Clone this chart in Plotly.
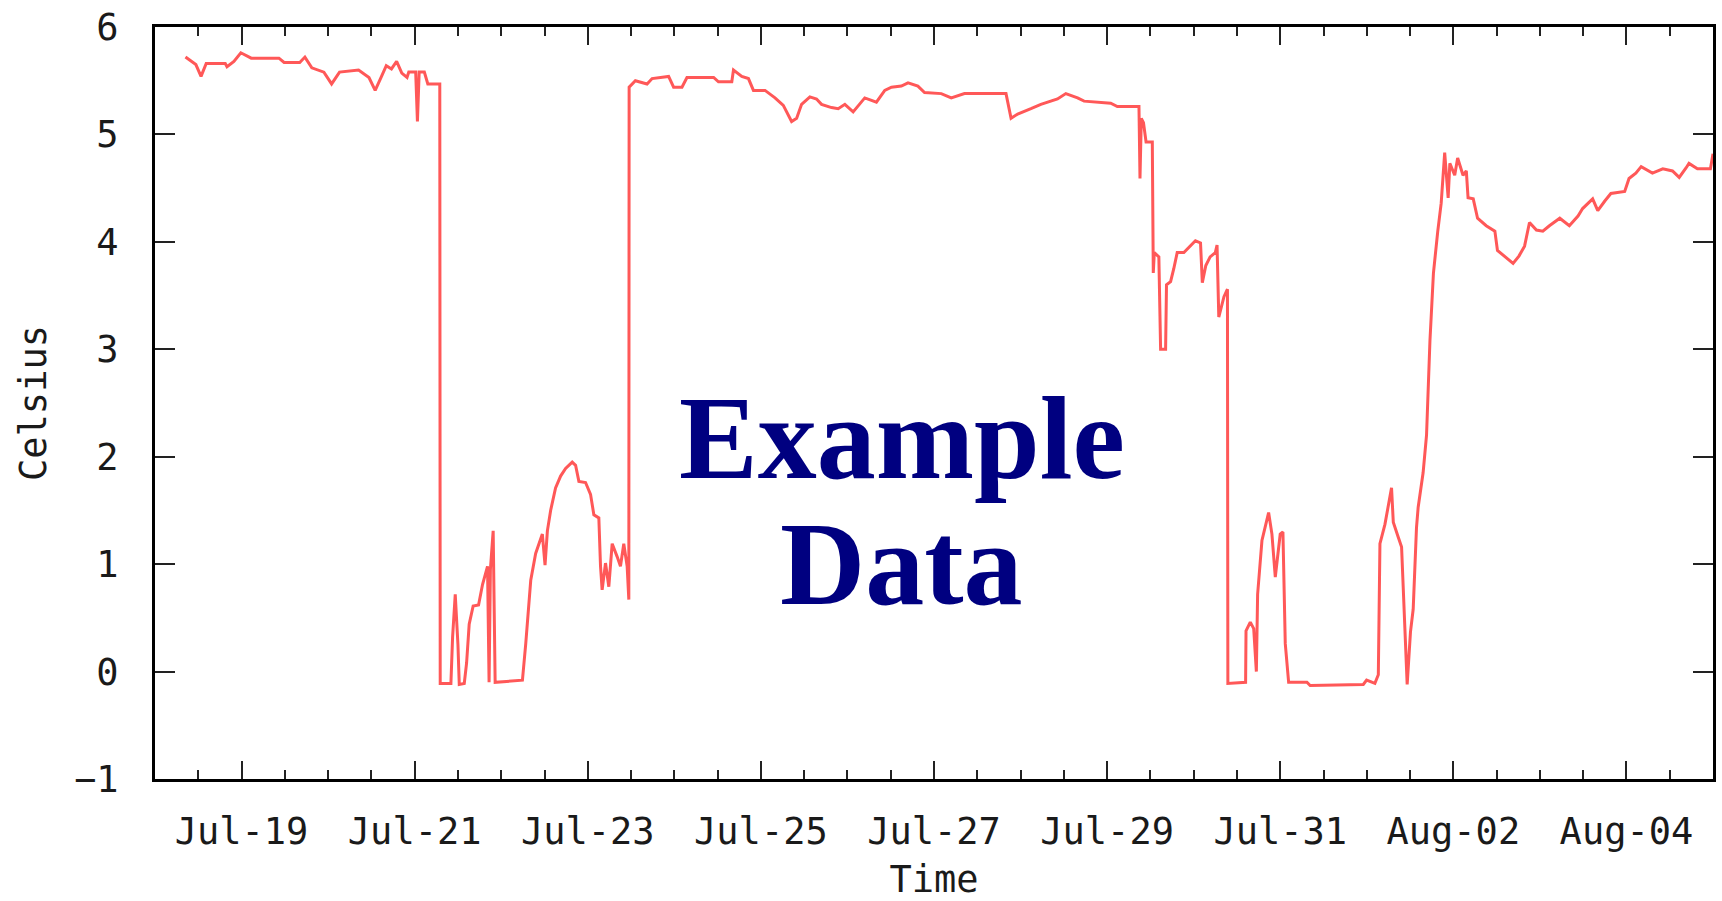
import plotly.graph_objects as go

# ---- data ----
times = [
    "2009-07-18 08:27", "2009-07-18 11:20", "2009-07-18 12:46", "2009-07-18 14:12", "2009-07-18 19:29",
    "2009-07-18 19:58", "2009-07-18 21:53", "2009-07-18 23:48", "2009-07-19 02:41", "2009-07-19 10:22",
    "2009-07-19 11:48", "2009-07-19 16:08", "2009-07-19 17:34", "2009-07-19 19:29", "2009-07-19 22:50",
    "2009-07-20 00:58", "2009-07-20 03:10", "2009-07-20 08:27", "2009-07-20 11:20", "2009-07-20 13:03",
    "2009-07-20 14:41", "2009-07-20 16:08", "2009-07-20 17:34", "2009-07-20 19:00", "2009-07-20 20:26",
    "2009-07-20 21:53", "2009-07-20 22:22", "2009-07-21 00:17", "2009-07-21 00:46", "2009-07-21 01:15",
    "2009-07-21 02:41", "2009-07-21 03:39", "2009-07-21 06:32", "2009-07-21 06:58", "2009-07-21 07:05",
    "2009-07-21 10:03", "2009-07-21 10:31", "2009-07-21 11:15", "2009-07-21 12:00", "2009-07-21 12:22",
    "2009-07-21 13:45", "2009-07-21 14:24", "2009-07-21 15:07", "2009-07-21 16:13", "2009-07-21 17:43",
    "2009-07-21 18:49", "2009-07-21 20:12", "2009-07-21 20:38", "2009-07-21 21:00", "2009-07-21 21:46",
    "2009-07-21 22:19", "2009-07-22 05:53", "2009-07-22 06:48", "2009-07-22 08:11", "2009-07-22 09:33",
    "2009-07-22 11:24", "2009-07-22 12:09", "2009-07-22 12:48", "2009-07-22 13:42", "2009-07-22 15:04",
    "2009-07-22 16:28", "2009-07-22 17:51", "2009-07-22 19:41", "2009-07-22 20:37", "2009-07-22 21:32",
    "2009-07-22 23:23", "2009-07-23 00:46", "2009-07-23 01:41", "2009-07-23 03:04", "2009-07-23 03:32",
    "2009-07-23 03:59", "2009-07-23 04:55", "2009-07-23 05:50", "2009-07-23 06:46", "2009-07-23 08:08",
    "2009-07-23 09:04", "2009-07-23 09:59", "2009-07-23 10:55", "2009-07-23 11:23", "2009-07-23 11:28",
    "2009-07-23 13:12", "2009-07-23 16:26", "2009-07-23 17:50", "2009-07-23 22:25", "2009-07-23 23:48",
    "2009-07-24 02:07", "2009-07-24 03:30", "2009-07-24 10:54", "2009-07-24 12:14", "2009-07-24 15:56",
    "2009-07-24 16:24", "2009-07-24 18:42", "2009-07-24 20:33", "2009-07-24 21:56", "2009-07-25 01:09",
    "2009-07-25 03:55", "2009-07-25 06:13", "2009-07-25 08:31", "2009-07-25 09:55", "2009-07-25 11:17",
    "2009-07-25 13:35", "2009-07-25 15:26", "2009-07-25 16:49", "2009-07-25 19:35", "2009-07-25 21:26",
    "2009-07-25 23:17", "2009-07-26 01:35", "2009-07-26 02:59", "2009-07-26 04:48", "2009-07-26 08:02",
    "2009-07-26 10:21", "2009-07-26 12:12", "2009-07-26 14:57", "2009-07-26 16:48", "2009-07-26 19:32",
    "2009-07-26 21:23", "2009-07-27 02:01", "2009-07-27 04:47", "2009-07-27 08:27", "2009-07-27 14:00",
    "2009-07-27 19:58", "2009-07-27 21:22", "2009-07-27 23:12", "2009-07-28 02:53", "2009-07-28 05:38",
    "2009-07-28 10:15", "2009-07-28 12:33", "2009-07-28 15:48", "2009-07-28 17:37", "2009-07-29 01:00",
    "2009-07-29 02:50", "2009-07-29 07:55", "2009-07-29 08:50", "2009-07-29 09:07", "2009-07-29 09:29",
    "2009-07-29 10:05", "2009-07-29 10:48", "2009-07-29 12:32", "2009-07-29 12:48", "2009-07-29 13:05",
    "2009-07-29 14:21", "2009-07-29 14:50", "2009-07-29 16:13", "2009-07-29 16:28", "2009-07-29 17:36",
    "2009-07-29 18:29", "2009-07-29 19:26", "2009-07-29 21:17", "2009-07-29 22:41", "2009-07-30 00:29",
    "2009-07-30 01:54", "2009-07-30 02:24", "2009-07-30 03:22", "2009-07-30 04:34", "2009-07-30 06:00",
    "2009-07-30 06:29", "2009-07-30 06:58", "2009-07-30 08:24", "2009-07-30 09:22", "2009-07-30 09:29",
    "2009-07-30 14:24", "2009-07-30 14:31", "2009-07-30 15:42", "2009-07-30 16:39", "2009-07-30 17:23",
    "2009-07-30 17:44", "2009-07-30 18:56", "2009-07-30 19:52", "2009-07-30 20:47", "2009-07-30 21:42",
    "2009-07-30 22:38", "2009-07-31 00:00", "2009-07-31 00:45", "2009-07-31 01:24", "2009-07-31 02:20",
    "2009-07-31 07:24", "2009-07-31 08:18", "2009-07-31 23:02", "2009-07-31 23:57", "2009-08-01 02:15",
    "2009-08-01 03:12", "2009-08-01 03:39", "2009-08-01 05:02", "2009-08-01 06:52", "2009-08-01 07:21",
    "2009-08-01 08:44", "2009-08-01 09:39", "2009-08-01 10:34", "2009-08-01 11:12", "2009-08-01 12:07",
    "2009-08-01 12:52", "2009-08-01 13:47", "2009-08-01 14:15", "2009-08-01 15:37", "2009-08-01 16:34",
    "2009-08-01 17:31", "2009-08-01 18:29", "2009-08-01 19:41", "2009-08-01 20:38", "2009-08-01 21:36",
    "2009-08-01 22:34", "2009-08-01 23:02", "2009-08-02 00:23", "2009-08-02 01:12", "2009-08-02 02:41",
    "2009-08-02 03:36", "2009-08-02 04:05", "2009-08-02 05:31", "2009-08-02 06:43", "2009-08-02 09:07",
    "2009-08-02 11:31", "2009-08-02 12:14", "2009-08-02 14:38", "2009-08-02 16:34", "2009-08-02 18:14",
    "2009-08-02 19:45", "2009-08-02 21:07", "2009-08-02 23:02", "2009-08-03 00:49", "2009-08-03 02:38",
    "2009-08-03 05:31", "2009-08-03 08:10", "2009-08-03 10:34", "2009-08-03 11:51", "2009-08-03 14:38",
    "2009-08-03 16:03", "2009-08-03 18:00", "2009-08-03 19:41", "2009-08-03 23:31", "2009-08-04 00:43",
    "2009-08-04 02:36", "2009-08-04 04:05", "2009-08-04 07:12", "2009-08-04 10:05", "2009-08-04 12:46",
    "2009-08-04 14:38", "2009-08-04 16:34", "2009-08-04 17:20", "2009-08-04 19:41", "2009-08-04 23:17",
    "2009-08-05 00:00",
]

celsius = [
    5.72, 5.65, 5.54, 5.66, 5.66,
    5.63, 5.68, 5.76, 5.71, 5.71,
    5.67, 5.67, 5.72, 5.62, 5.58,
    5.47, 5.58, 5.60, 5.53, 5.41,
    5.53, 5.64, 5.61, 5.68, 5.57,
    5.53, 5.58, 5.58, 5.12, 5.58,
    5.58, 5.47, 5.47, 5.47, -0.11,
    -0.11, 0.32, 0.72, 0.25, -0.12,
    -0.11, 0.08, 0.44, 0.61, 0.62,
    0.81, 0.98, -0.10, 0.95, 1.31,
    -0.10, -0.08, 0.26, 0.85, 1.10,
    1.28, 0.99, 1.31, 1.50, 1.71,
    1.82, 1.89, 1.95, 1.92, 1.77,
    1.76, 1.65, 1.46, 1.43, 0.98,
    0.76, 1.01, 0.79, 1.19, 1.07,
    0.98, 1.19, 0.98, 0.67, 5.44,
    5.50, 5.47, 5.52, 5.54, 5.44,
    5.44, 5.53, 5.53, 5.49, 5.49,
    5.60, 5.54, 5.52, 5.41, 5.41,
    5.34, 5.27, 5.12, 5.15, 5.28,
    5.35, 5.33, 5.28, 5.25, 5.24,
    5.28, 5.21, 5.27, 5.34, 5.30,
    5.41, 5.44, 5.45, 5.48, 5.45,
    5.39, 5.38, 5.34, 5.38, 5.38,
    5.38, 5.15, 5.19, 5.24, 5.28,
    5.33, 5.38, 5.34, 5.31, 5.29,
    5.26, 5.26, 5.26, 4.59, 5.15,
    5.11, 4.93, 4.93, 3.71, 3.90,
    3.86, 3.00, 3.00, 3.60, 3.63,
    3.75, 3.90, 3.90, 3.95, 4.01,
    3.99, 3.62, 3.78, 3.86, 3.90,
    3.97, 3.30, 3.49, 3.56, -0.11,
    -0.10, 0.38, 0.46, 0.40, 0.00,
    0.72, 1.22, 1.36, 1.48, 1.28,
    0.88, 1.28, 1.30, 0.26, -0.10,
    -0.10, -0.13, -0.12, -0.08, -0.11,
    -0.03, 1.19, 1.37, 1.71, 1.39,
    1.25, 1.16, 0.40, -0.12, 0.37,
    0.58, 1.34, 1.53, 1.85, 2.20,
    3.08, 3.71, 4.10, 4.36, 4.83,
    4.41, 4.73, 4.62, 4.78, 4.62,
    4.66, 4.41, 4.40, 4.22, 4.15,
    4.10, 3.92, 3.85, 3.80, 3.87,
    3.96, 4.18, 4.11, 4.10, 4.15,
    4.22, 4.15, 4.24, 4.31, 4.40,
    4.29, 4.38, 4.45, 4.47, 4.59,
    4.64, 4.70, 4.64, 4.68, 4.66,
    4.60, 4.69, 4.73, 4.68, 4.68,
    4.82,
]

x_range = ["2009-07-18 00:00", "2009-08-05 00:00"]
y_range = [-1, 6]
y_ticks = [-1, 0, 1, 2, 3, 4, 5, 6]
x_title = "Time"
y_title = "Celsius"
watermark_lines = ["Example", "Data"]
watermark_x = "2009-07-26 15:00"
watermark_y = [2.17, 1.0]

MONO = "DejaVu Sans Mono"
TXT = "#1a1a1a"
FS = 37

fig = go.Figure()
fig.add_trace(go.Scatter(
    x=times, y=celsius, mode="lines",
    line=dict(color="rgb(255,88,88)", width=3),
    hoverinfo="skip", showlegend=False,
))

for text, yv in zip(watermark_lines, watermark_y):
    fig.add_annotation(
        x=watermark_x, y=yv, xref="x", yref="y",
        text="<b>" + text + "</b>", showarrow=False,
        xanchor="center", yanchor="middle",
        font=dict(family="Liberation Serif", size=118, color="#000080"),
    )

fig.update_layout(
    width=1722, height=901,
    margin=dict(l=155, r=6, t=22, b=102),
    paper_bgcolor="white", plot_bgcolor="white",
    font=dict(family=MONO, size=FS, color=TXT),
)

fig.update_xaxes(
    type="date", range=x_range,
    tick0="2009-07-19", dtick=2 * 86400000, tickformat="%b-%d",
    ticks="inside", ticklen=18, tickwidth=2, tickcolor="#222",
    mirror="allticks", showline=True, linecolor="black", linewidth=3,
    showgrid=False, zeroline=False,
    ticklabelstandoff=18,
    tickfont=dict(family=MONO, size=FS, color=TXT),
    minor=dict(dtick=43200000, ticks="inside", ticklen=9, tickwidth=2,
               tickcolor="#222", showgrid=False),
    title=dict(text=x_title, font=dict(family=MONO, size=FS, color=TXT), standoff=16),
)

fig.update_yaxes(
    range=y_range, tickvals=y_ticks,
    ticks="inside", ticklen=20, tickwidth=2, tickcolor="#222",
    mirror="allticks", showline=True, linecolor="black", linewidth=3,
    showgrid=False, zeroline=False,
    ticklabelstandoff=26,
    tickfont=dict(family=MONO, size=FS, color=TXT),
    title=dict(text=y_title, font=dict(family=MONO, size=FS, color=TXT), standoff=17),
)

fig.write_html(
    "out.html",
    config={"displayModeBar": False},
    post_script="document.body.style.margin='0';document.body.style.overflow='hidden';",
)
